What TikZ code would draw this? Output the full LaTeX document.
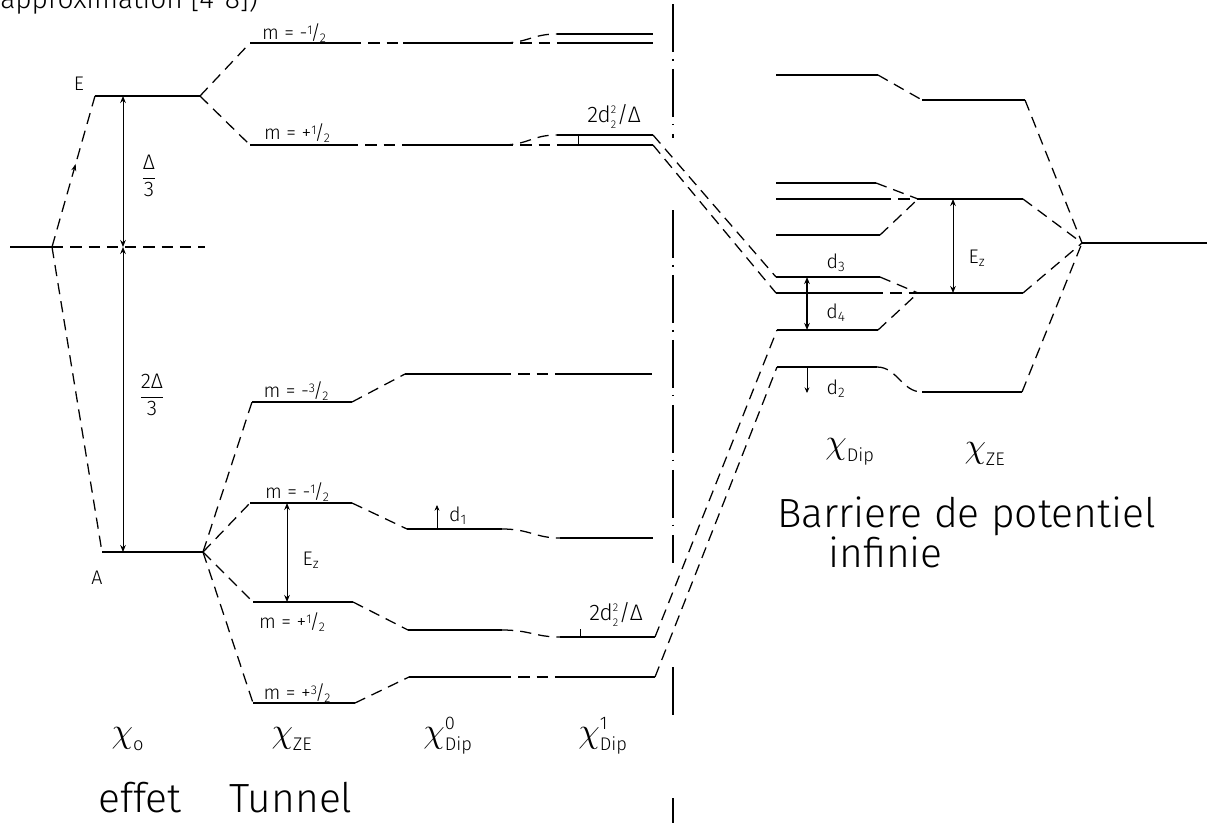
\documentclass[tikz,border=0pt]{standalone}
\usepackage{fontspec}
\setmainfont{Fira Sans Light}
\usetikzlibrary{arrows.meta,decorations.markings}
\newcommand\hfr[2]{\raisebox{0.45ex}{\fontsize{9}{9}\selectfont #1}\kern-0.1em/\kern-0.05em\raisebox{-0.25ex}{\fontsize{9}{9}\selectfont #2}}
\newcommand\chis[2]{{\fontsize{30}{30}\selectfont$\chi^{\mbox{\fontsize{13}{13}\selectfont #2}}_{\mbox{\fontsize{13}{13}\selectfont #1}}$}}
\begin{document}
\begin{tikzpicture}[x=0.025cm,y=-0.025cm,
  lvl/.style={line width=1.3pt},
  corr/.style={line width=0.9pt,dash pattern=on 8pt off 5pt},
  dimar/.style={line width=0.7pt,{Stealth[length=5pt,width=4pt]}-{Stealth[length=5pt,width=4pt]}},
  onear/.style={line width=0.7pt,-{Stealth[length=4pt,width=3.5pt]}},
  axisl/.style={line width=0.9pt,dash pattern=on 34pt off 5pt on 1.2pt off 6pt},
  lab/.style={font=\fontsize{14}{14}\selectfont,inner sep=0pt},
  big/.style={font=\fontsize{29}{29}\selectfont,inner sep=0pt,anchor=base west}]
\useasboundingbox (0,0) rectangle (1214,822);
\clip (0,0) rectangle (1214,822);
\fill[white] (0,0) rectangle (1214,822);
% header (cut off at the top)
\node[anchor=base west,font=\fontsize{20}{20}\selectfont,inner sep=0pt] (hdr) at (0,8) {approximation [4-8])};
% ---------- coordinates ----------
\coordinate (O0) at (10,247); \coordinate (O1) at (52,247); \coordinate (O2) at (205,247);
\coordinate (E1) at (95,96);  \coordinate (E2) at (200,96);
\coordinate (A1) at (102,552); \coordinate (A2) at (203,552);
\coordinate (T1a) at (250,43);  \coordinate (T1b) at (350,43);
\coordinate (T2a) at (250,145); \coordinate (T2b) at (347,145);
\coordinate (T3a) at (252,402); \coordinate (T3b) at (352,402);
\coordinate (T4a) at (250,503); \coordinate (T4b) at (352,503);
\coordinate (T5a) at (253,602); \coordinate (T5b) at (353,602);
\coordinate (T6a) at (253,703); \coordinate (T6b) at (355,703);
\coordinate (P1a) at (403,43);  \coordinate (P1b) at (502,43);
\coordinate (P2a) at (403,145); \coordinate (P2b) at (502,145);
\coordinate (Q1a) at (557,34);  \coordinate (Q1b) at (653,34);
\coordinate (Q2a) at (557,43);  \coordinate (Q2b) at (653,43);
\coordinate (Q3a) at (557,135); \coordinate (Q3b) at (653,135);
\coordinate (Q4a) at (557,145); \coordinate (Q4b) at (653,145);
\coordinate (D3a) at (405,374); \coordinate (D3b) at (500,374); \coordinate (D3c) at (560,374); \coordinate (D3d) at (652,374);
\coordinate (D4a) at (407,529); \coordinate (D4b) at (502,529); \coordinate (D4c) at (560,538); \coordinate (D4d) at (653,538);
\coordinate (D5a) at (408,630); \coordinate (D5b) at (502,630); \coordinate (D5c) at (560,637); \coordinate (D5d) at (655,637);
\coordinate (D6a) at (409,677); \coordinate (D6b) at (500,677); \coordinate (D6c) at (560,677); \coordinate (D6d) at (655,677);
\coordinate (R0a) at (776,75);  \coordinate (R0b) at (878,75);
\coordinate (R1a) at (776,183); \coordinate (R1b) at (876,183);
\coordinate (R2a) at (776,199); \coordinate (R2b) at (880,199);
\coordinate (R3a) at (776,235); \coordinate (R3b) at (880,235);
\coordinate (R4a) at (776,277); \coordinate (R4b) at (880,277);
\coordinate (R5a) at (776,293); \coordinate (R5b) at (872,293);
\coordinate (R6a) at (777,330); \coordinate (R6b) at (878,330);
\coordinate (R7a) at (777,367); \coordinate (R7b) at (877,367);
\coordinate (S0a) at (922,100); \coordinate (S0b) at (1025,100);
\coordinate (S1a) at (918,199); \coordinate (S1b) at (1023,199);
\coordinate (S2a) at (918,293); \coordinate (S2b) at (1023,293);
\coordinate (S3a) at (922,392); \coordinate (S3b) at (1022,392);
\coordinate (C) at (1082,243);  \coordinate (C2) at (1207,243);
% ---------- levels ----------
\draw[line width=1pt] (O0) -- (O1);
\foreach \a/\b in {E1/E2,A1/A2,T1a/T1b,T2a/T2b,T3a/T3b,T4a/T4b,T5a/T5b,T6a/T6b,
  P1a/P1b,P2a/P2b,Q1a/Q1b,Q2a/Q2b,Q3a/Q3b,Q4a/Q4b,
  D3a/D3b,D3c/D3d,D4a/D4b,D4c/D4d,D5a/D5b,D5c/D5d,D6a/D6b,D6c/D6d,
  R0a/R0b,R1a/R1b,R2a/R2b,R3a/R3b,R4a/R4b,R5a/R5b,R6a/R6b,R7a/R7b,
  S0a/S0b,S1a/S1b,S2a/S2b,S3a/S3b}
  \draw[lvl] (\a) -- (\b);
\draw[line width=1pt] (C) -- (C2);
% ---------- correlation lines ----------
\draw[corr,postaction={decorate},decoration={markings,mark=at position 0.55 with {\arrow{Stealth[length=5pt,width=3.5pt]}}}] (O1) -- (E1);
\foreach \a/\b in {O1/A1,O1/O2,E2/T1a,E2/T2a,T1b/P1a,T2b/P2a,P1b/Q2a,P2b/Q4a,Q3b/R4a,Q4b/R5a,
  A2/T3a,A2/T4a,A2/T5a,A2/T6a,T3b/D3a,T4b/D4a,T5b/D5a,T6b/D6a,D3b/D3c,D6b/D6c,
  D5d/R6a,D6d/R7a,
  R0b/S0a,S0b/C,R1b/S1a,R2b/S1a,R3b/S1a,S1b/C,R4b/S2a,R5b/S2a,R6b/S2a,S2b/C,S3b/C}
  \draw[corr] (\a) -- (\b);
\draw[corr] (P1b) .. controls (528,43) and (532,34) .. (Q1a);
\draw[corr] (P2b) .. controls (528,145) and (532,135) .. (Q3a);
\draw[corr] (D4b) .. controls (530,529) and (535,538) .. (D4c);
\draw[corr] (D5b) .. controls (530,630) and (535,637) .. (D5c);
\draw[corr] (R7b) .. controls (897,367) and (902,392) .. (S3a);
% ---------- vertical axis (dash-dot) ----------
\coordinate (V0) at (673,4); \coordinate (V1) at (673,138);
\coordinate (V2) at (673,210); \coordinate (V3) at (673,563);
\coordinate (V4) at (673,667); \coordinate (V5) at (673,715);
\coordinate (V6) at (673,798); \coordinate (V7) at (673,830);
\draw[axisl] (V0) -- (V1);
\draw[axisl] (V2) -- (V3);
\draw[line width=0.9pt] (V4) -- (V5);
\draw[line width=0.9pt] (V6) -- (V7);
% ---------- dimension arrows ----------
\coordinate (M0) at (123,247);
\coordinate (M1) at (123,96); \coordinate (M2) at (123,552);
\draw[dimar] (M1) -- (M0);
\draw[dimar] (M0) -- (M2);
\coordinate (Z1) at (287,503); \coordinate (Z2) at (287,602);
\draw[dimar] (Z1) -- (Z2);
\coordinate (d1a) at (437,529); \coordinate (d1b) at (437,505);
\draw[onear] (d1a) -- (d1b);
\coordinate (k1a) at (578,135); \coordinate (k1b) at (578,145);
\draw[line width=0.6pt] (k1a) -- (k1b);
\coordinate (k2a) at (580,629); \coordinate (k2b) at (580,637);
\draw[line width=0.6pt] (k2a) -- (k2b);
\coordinate (d3a) at (807,277); \coordinate (d3b) at (807,330);
\draw[dimar,line width=1.1pt] (d3a) -- (d3b);
\coordinate (d2a) at (807,367); \coordinate (d2b) at (807,393);
\draw[onear] (d2a) -- (d2b);
\coordinate (Y1) at (953,199); \coordinate (Y2) at (953,293);
\draw[dimar] (Y1) -- (Y2);
% ---------- labels ----------
\node[lab] (lE) at (79,84) {E};
\node[lab] (lA) at (97,578) {A};
\node[inner sep=0pt,font=\fontsize{15}{15}\selectfont] (fr1) at (149,176) {$\displaystyle\frac{\mbox{Δ}}{\mbox{3}}$};
\node[inner sep=0pt,font=\fontsize{15}{15}\selectfont] (fr2) at (152,395) {$\displaystyle\frac{\mbox{2Δ}}{\mbox{3}}$};
\node[lab] (m1) at (294,33) {m = -\hfr{1}{2}};
\node[lab] (m2) at (297,133) {m = +\hfr{1}{2}};
\node[lab] (m3) at (296,391) {m = -\hfr{3}{2}};
\node[lab] (m4) at (297,492) {m = -\hfr{1}{2}};
\node[lab] (m5) at (292,622) {m = +\hfr{1}{2}};
\node[lab] (m6) at (297,693) {m = +\hfr{3}{2}};
\node[lab] (lEz) at (311,560) {E\textsubscript{z}};
\node[lab] (ld1) at (458,516) {d\textsubscript{1}};
\node[lab,font=\fontsize{16}{16}\selectfont] (l2d1) at (614,116) {2d$^{\mbox{\fontsize{8}{8}\selectfont 2}}_{\mbox{\fontsize{8}{8}\selectfont 2}}$/Δ};
\node[lab,font=\fontsize{16}{16}\selectfont] (l2d2) at (616,614) {2d$^{\mbox{\fontsize{8}{8}\selectfont 2}}_{\mbox{\fontsize{8}{8}\selectfont 2}}$/Δ};
\node[lab] (ld3) at (836,263) {d\textsubscript{3}};
\node[lab] (ld4) at (836,313) {d\textsubscript{4}};
\node[lab] (ld2) at (836,389) {d\textsubscript{2}};
\node[lab] (lEz2) at (977,258) {E\textsubscript{z}};
% column captions
\node[inner sep=0pt] (c0) at (128,739) {\chis{o}{}};
\node[inner sep=0pt] (c1) at (292,739) {\chis{ZE}{}};
\node[inner sep=0pt] (c2) at (448,736) {\chis{Dip}{0}};
\node[inner sep=0pt] (c3) at (603,736) {\chis{Dip}{1}};
\node[inner sep=0pt] (c4) at (850,452) {\chis{Dip}{}};
\node[inner sep=0pt] (c5) at (985,454) {\chis{ZE}{}};
\node[big] (t1) at (98,812) {effet};
\node[big] (t2) at (229,812) {Tunnel};
\node[big] (t3) at (777,527) {Barriere de potentiel};
\node[big] (t4) at (828,567) {infinie};
\end{tikzpicture}
\end{document}
